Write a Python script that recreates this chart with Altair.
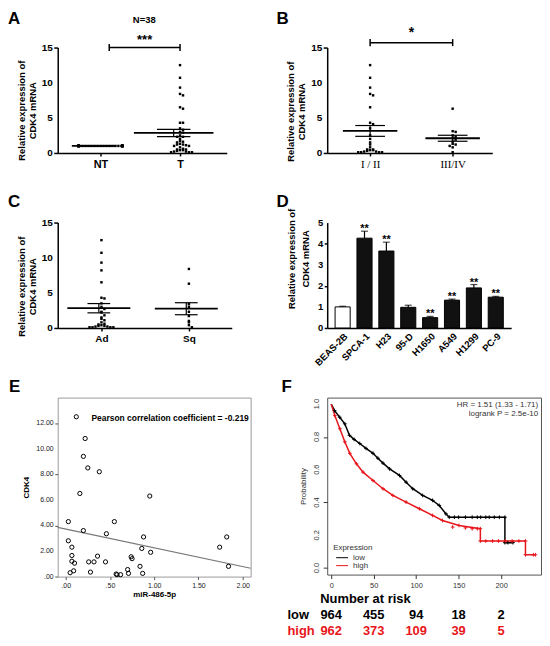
import altair as alt
import pandas as pd

FONT = "Liberation Sans"
SERIF = "Liberation Serif"

# ---------------- data ----------------
A_LABELS = ["NT", "T"]
A_NT = [1.0, 1.0, 1.0, 1.0, 1.0, 1.0, 1.0, 1.0, 1.0, 1.0, 1.0, 1.0, 1.0, 1.0, 1.0, 1.0, 1.0, 1.0, 1.0,
        1.0, 1.0, 1.0, 1.0, 1.0, 1.0, 1.0, 1.0, 1.0, 1.0, 1.0, 1.0, 1.0, 1.0, 1.0, 1.0, 1.0, 1.0, 1.0]
A_T = [12.5, 10.7, 9.3, 8.4, 8.2, 6.5, 6.3, 4.3, 4.3, 3.5, 3.3, 3.0, 2.9, 2.5, 2.3, 2.3, 2.0, 1.7, 1.6,
       1.5, 1.3, 1.2, 1.2, 1.1, 1.0, 1.0, 0.8, 0.6, 0.5, 0.5, 0.4, 0.4, 0.3, 0.2, 0.2, 0.1, 0.1, 0.1]

B_LABELS = ["I / II", "III/IV"]
B_I_II = [12.5, 10.7, 9.3, 8.4, 8.2, 6.5, 4.3, 4.1, 3.5, 2.5, 2.0, 1.5, 1.2, 0.8, 0.5, 0.5, 0.4,
          0.4, 0.3, 0.2, 0.2, 0.1, 0.1, 0.1, 0.1]
B_III_IV = [6.3, 3.1, 3.0, 2.5, 2.3, 2.1, 1.9, 1.6, 1.3, 1.2, 1.0, 0.8, 0.1]

C_LABELS = ["Ad", "Sq"]
C_AD = [12.5, 10.7, 9.3, 8.2, 6.5, 4.3, 4.2, 3.5, 3.0, 2.7, 2.3, 2.2, 1.8, 1.5, 1.3, 1.1, 0.8, 0.6,
        0.5, 0.4, 0.3, 0.3, 0.2, 0.2, 0.1, 0.1, 0.1, 0.1]
C_SQ = [8.4, 6.3, 3.4, 3.0, 2.3, 1.7, 1.0, 0.8, 0.4, 0.1]
ABC_YTICKS = [0, 5, 10, 15]

D_CELLS = ["BEAS-2B", "SPCA-1", "H23", "95-D", "H1650", "A549", "H1299", "PC-9"]
D_MEAN = [1.0, 4.26, 3.65, 0.98, 0.49, 1.32, 1.90, 1.46]
D_ERR = [0.03, 0.33, 0.42, 0.10, 0.06, 0.05, 0.16, 0.04]
D_SIG = ["", "**", "**", "", "**", "**", "**", "**"]
D_YTICKS = [0, 1, 2, 3, 4, 5]

E_MIR = [0.12, 0.22, 0.20, 0.25, 0.38, 0.16, 0.95, 0.03, 0.55, 0.20, 0.46, 0.88, 0.03, 0.07, 0.86,
         0.96, 1.74, 1.82, 1.84, 0.07, 0.07, 0.10, 0.26, 0.32, 0.36, 0.45, 0.74, 0.75, 0.84, 0.70,
         0.09, 0.05, 0.28, 0.57, 0.58, 0.62, 0.71, 0.87]
E_CDK4 = [12.5, 10.8, 9.4, 8.5, 8.2, 6.5, 6.3, 4.3, 4.3, 3.6, 3.35, 3.1, 2.8, 2.3, 2.2, 1.9, 2.3,
          3.1, 0.8, 1.65, 1.2, 1.05, 1.15, 1.15, 1.6, 1.15, 1.55, 1.4, 0.8, 0.55, 0.45, 0.3, 0.35,
          0.2, 0.15, 0.15, 0.25, 0.25]
E_XTICKS = [0, 0.5, 1, 1.5, 2]
E_YTICKS = [0, 2, 4, 6, 8, 10, 12]
E_NOTE = "Pearson correlation coefficient = -0.219"

F_LOW_T = [0, 4, 10, 16, 21.5, 27, 33.6, 41, 49.2, 55, 61, 68.7, 80.4, 88.2, 96, 107.7, 119.4,
           127.2, 135, 139, 204.5, 204.5, 214]
F_LOW_S = [1.0, 0.96, 0.92, 0.88, 0.81, 0.785, 0.76, 0.73, 0.70, 0.67, 0.64, 0.605, 0.565, 0.524,
           0.484, 0.443, 0.413, 0.382, 0.331, 0.31, 0.31, 0.155, 0.155]
F_HIGH_T = [0, 4.3, 10.2, 16, 21.9, 29.7, 37.5, 49.2, 61, 72.6, 88.2, 103.8, 119.4, 131, 150.5,
            175.6, 175.6, 228.7, 228.7, 240.4]
F_HIGH_S = [1.0, 0.93, 0.85, 0.77, 0.70, 0.636, 0.585, 0.534, 0.484, 0.443, 0.402, 0.362, 0.321,
            0.29, 0.26, 0.24, 0.165, 0.165, 0.081, 0.081]
F_LOW_CENS_T = [145, 150, 158, 166, 172, 176, 182, 186, 192, 198, 208]
F_LOW_CENS_S = [0.31, 0.31, 0.31, 0.31, 0.31, 0.31, 0.31, 0.31, 0.31, 0.31, 0.155]
F_HIGH_CENS_T = [143, 158, 166, 172, 182, 190, 197, 205, 213, 221, 238]
F_HIGH_CENS_S = [0.25, 0.245, 0.24, 0.24, 0.165, 0.165, 0.165, 0.165, 0.165, 0.165, 0.081]
F_GROUPS = ["low", "high"]
F_XTICKS = [0, 50, 100, 150, 200]
F_YTICKS = [0, 0.2, 0.4, 0.6, 0.8, 1.0]
F_HR = "HR = 1.51 (1.33 - 1.71)"
F_P = "logrank P = 2.5e-10"
RISK_TIMES = [0, 50, 100, 150, 200]
RISK_LOW = [964, 455, 94, 18, 2]
RISK_HIGH = [962, 373, 109, 39, 5]

RED = "#e8161b"
ANNOT = pd.DataFrame({"a": [0]})
YTITLE = ["Relative expression of", "CDK4 mRNA"]
SPSS_FMT = "datum.tv < 1 ? substring(format(datum.tv, '.2f'), 1) : format(datum.tv, '.2f')"
SPSS_AXFMT = "datum.value < 1 ? substring(format(datum.value, '.2f'), 1) : format(datum.value, '.2f')"


def letter(ch, dx, dy):
    return alt.Chart(ANNOT).mark_text(
        text=ch, fontSize=17, fontWeight="bold", font=FONT, align="left",
        baseline="alphabetic", color="black"
    ).encode(x=alt.value(dx), y=alt.value(dy))


def ylabels(values, expr, dx, size, weight, color="black", angle=0, align="right",
            baseline="middle"):
    df = pd.DataFrame({"tv": values})
    return alt.Chart(df).transform_calculate(lbl=expr).mark_text(
        font=FONT, fontSize=size, fontWeight=weight, color=color, angle=angle,
        align=align, baseline=baseline
    ).encode(y=alt.Y("tv:Q"), x=alt.value(dx), text="lbl:N")


def dot_panel(vals1, vals2, labels, width, height, dom, mean_hw, cap_hw, mshift,
              lab_font, lab_weight, lab_size, title_y, extra):
    ppu = width / (dom[1] - dom[0])
    df = pd.DataFrame({"g": [1] * len(vals1) + [2] * len(vals2), "v": vals1 + vals2})
    step = 3.0 / ppu
    lim = 22.0 / ppu
    xscale = alt.Scale(domain=dom, nice=False, zero=False)
    yscale = alt.Scale(domain=[0, 15], nice=False, zero=False)
    xaxis = alt.Axis(values=[1, 2],
                     labelExpr=f"datum.value == 1 ? '{labels[0]}' : '{labels[1]}'",
                     title=None, tickSize=3, tickWidth=1.5, domainWidth=1.5,
                     labelFont=lab_font, labelFontWeight=lab_weight, labelFontSize=lab_size,
                     labelPadding=3, grid=False, labelOverlap=False)
    yaxis = alt.Axis(values=ABC_YTICKS, labels=False, title=YTITLE, titleFontSize=9.5,
                     titleFontWeight="bold", titleLineHeight=11, titlePadding=16, titleY=title_y,
                     tickSize=4, tickWidth=1.5, domainWidth=1.5, grid=False)
    base = alt.Chart(df)
    pts = base.transform_calculate(
        b="floor(datum.v / 0.45)"
    ).transform_window(
        rk="row_number()", groupby=["g", "b"], sort=[alt.SortField("v", order="descending")]
    ).transform_calculate(
        k="datum.rk - 1"
    ).transform_calculate(
        xx=f"datum.g + clamp((datum.k % 2 == 1 ? 1 : -1) * ceil(datum.k / 2) * {step:.5f}, {-lim:.5f}, {lim:.5f})"
    ).mark_square(size=6, color="black", opacity=1).encode(
        x=alt.X("xx:Q", scale=xscale, axis=xaxis),
        y=alt.Y("v:Q", scale=yscale, axis=yaxis),
    )
    agg = base.transform_aggregate(
        m="mean(v)", se="stderr(v)", groupby=["g"]
    ).transform_calculate(
        hw=mean_hw,
        lo="datum.m - datum.se", hi="datum.m + datum.se",
        c=f"datum.g + {mshift}",
        cx1=f"datum.g + {mshift} - {cap_hw}", cx2=f"datum.g + {mshift} + {cap_hw}",
    ).transform_calculate(
        mx1=f"datum.g + {mshift} - datum.hw", mx2=f"datum.g + {mshift} + datum.hw",
    )
    mean_rule = agg.mark_rule(color="black", strokeWidth=1.8).encode(
        x="mx1:Q", x2="mx2:Q", y="m:Q")
    sem_rule = agg.mark_rule(color="black", strokeWidth=1.2).encode(
        x="c:Q", y="lo:Q", y2="hi:Q")
    cap_hi = agg.mark_rule(color="black", strokeWidth=1.2).encode(
        x="cx1:Q", x2="cx2:Q", y="hi:Q")
    cap_lo = agg.mark_rule(color="black", strokeWidth=1.2).encode(
        x="cx1:Q", x2="cx2:Q", y="lo:Q")
    ylab = ylabels(ABC_YTICKS, "format(datum.tv, 'd')", -5, 10, "bold")
    return alt.layer(pts, mean_rule, sem_rule, cap_hi, cap_lo, ylab, *extra).properties(
        width=width, height=height)


def bracket(x1, x2, y, star, star_y, star_size):
    ln = alt.Chart(ANNOT).mark_rule(color="black", strokeWidth=1.5).encode(
        x=alt.datum(x1), x2=alt.datum(x2), y=alt.datum(y))
    t1 = alt.Chart(ANNOT).mark_rule(color="black", strokeWidth=1.5).encode(
        x=alt.datum(x1), y=alt.datum(y - 0.5), y2=alt.datum(y + 0.5))
    t2 = alt.Chart(ANNOT).mark_rule(color="black", strokeWidth=1.5).encode(
        x=alt.datum(x2), y=alt.datum(y - 0.5), y2=alt.datum(y + 0.5))
    st = alt.Chart(ANNOT).mark_text(text=star, fontSize=star_size, fontWeight="bold",
                                    font=FONT, baseline="middle").encode(
        x=alt.datum((x1 + x2) / 2), y=alt.datum(star_y))
    return [ln, t1, t2, st]


# ---------------- Panel A ----------------
n38 = alt.Chart(ANNOT).mark_text(text="N=38", fontSize=9.5, fontWeight="bold", font=FONT,
                                 baseline="middle").encode(x=alt.datum(1.55), y=alt.datum(18.9))
pA = dot_panel(A_NT, A_T, A_LABELS, 170, 106, [0.4625, 2.5875],
               "datum.g == 1 ? 0.28 : 0.5", 0.21, -0.08,
               FONT, "bold", 11, 63,
               bracket(1.11, 2.0, 15.0, "***", 16.1, 13) + [n38, letter("A", -50, -24)])

# ---------------- Panel B ----------------
pB = dot_panel(B_I_II, B_III_IV, B_LABELS, 166, 106, [0.48, 2.48], "0.33", 0.18, 0.0,
               SERIF, "normal", 11, 64,
               bracket(1.0, 2.0, 15.7, "*", 17.0, 14) + [letter("B", -51, -24)])

# ---------------- Panel C ----------------
pC = dot_panel(C_AD, C_SQ, C_LABELS, 175, 106, [0.5, 2.49], "0.36", 0.13, -0.03,
               FONT, "bold", 10, 64, [letter("C", -50, -16)])

# ---------------- Panel D ----------------
d_df = pd.DataFrame({"cell": D_CELLS, "mean": D_MEAN, "err": D_ERR, "sig": D_SIG})
d_base = alt.Chart(d_df).transform_calculate(hi="datum.mean + datum.err")
xD = alt.X("cell:N", sort=D_CELLS,
           scale=alt.Scale(paddingInner=0.31, paddingOuter=0.36),
           axis=alt.Axis(title=None, labelAngle=315, labelFontWeight="bold", labelFontSize=9.5,
                         ticks=False, domainWidth=1.5, labelPadding=3, grid=False,
                         labelOverlap=False))
yD = alt.Y("mean:Q", scale=alt.Scale(domain=[0, 5], nice=False),
           axis=alt.Axis(values=D_YTICKS, labels=False, title=YTITLE, titleFontSize=9.5,
                         titleFontWeight="bold", titleLineHeight=14, titlePadding=13, titleY=36,
                         tickSize=3, tickWidth=1.5, domainWidth=1.5, grid=False))
bars = d_base.mark_bar(stroke="black", strokeWidth=1).encode(
    x=xD, y=yD,
    fill=alt.condition("datum.cell == 'BEAS-2B'", alt.value("white"), alt.value("#111111")))
err = d_base.mark_rule(color="black", strokeWidth=1.2).encode(
    x=alt.X("cell:N", sort=D_CELLS), y="mean:Q", y2="hi:Q")
cap = d_base.mark_tick(orient="horizontal", size=7, thickness=1.2, color="black").encode(
    x=alt.X("cell:N", sort=D_CELLS), y="hi:Q")
sig = d_base.mark_text(fontSize=11, fontWeight="bold", font=FONT, baseline="alphabetic",
                       dy=1, color="black").encode(
    x=alt.X("cell:N", sort=D_CELLS), y="hi:Q", text="sig:N")
d_ylab = ylabels(D_YTICKS, "format(datum.tv, 'd')", -4, 9.5, "bold")
pD = alt.layer(bars, err, cap, sig, d_ylab, letter("D", -51, -16)).properties(
    width=185, height=106)

# ---------------- Panel E ----------------
e_df = pd.DataFrame({"mir": E_MIR, "cdk4": E_CDK4})
xE = alt.X("mir:Q", scale=alt.Scale(domain=[-0.09, 2.09], nice=False, zero=False),
           axis=alt.Axis(values=E_XTICKS, labelExpr=SPSS_AXFMT, title="miR-486-5p",
                         titleFontSize=8, titleFontWeight="bold", titlePadding=2,
                         labelFontSize=7, labelColor="#222222", tickSize=3, tickColor="#555555",
                         domain=False, grid=False, labelPadding=2, labelOverlap=False))
yE = alt.Y("cdk4:Q", scale=alt.Scale(domain=[0, 14], nice=False, zero=False),
           axis=alt.Axis(values=E_YTICKS, labels=False, title="CDK4",
                         titleFontSize=8, titleFontWeight="bold", titlePadding=24,
                         tickSize=3, tickColor="#555555", domain=False, grid=False))
e_pts = alt.Chart(e_df).mark_point(shape="circle", size=18, filled=False, color="black",
                                   strokeWidth=1, opacity=1).encode(x=xE, y=yE)
e_line = alt.Chart(e_df).transform_regression(
    "mir", "cdk4", extent=[-0.09, 2.09]
).mark_line(color="#777777", strokeWidth=1.2).encode(x="mir:Q", y="cdk4:Q")
e_txt = alt.Chart(ANNOT).mark_text(text=E_NOTE, fontSize=8.5, fontWeight="bold", font=FONT,
                                   baseline="middle").encode(x=alt.datum(1.18), y=alt.datum(12.4))
e_ylab = ylabels(E_YTICKS, SPSS_FMT, -4, 7, "normal", color="#222222")
pE = alt.layer(e_line, e_pts, e_txt, e_ylab, letter("E", -49, -6)).properties(
    width=194, height=180, view=alt.ViewBackground(stroke="#999999", strokeWidth=1))

# ---------------- Panel F ----------------
f_df = pd.DataFrame({
    "t": F_LOW_T + F_HIGH_T,
    "s": F_LOW_S + F_HIGH_S,
    "grp": ["low"] * len(F_LOW_T) + ["high"] * len(F_HIGH_T),
})
f_df["i"] = range(len(f_df))
cens_df = pd.DataFrame({
    "t": F_LOW_CENS_T + F_HIGH_CENS_T,
    "s": F_LOW_CENS_S + F_HIGH_CENS_S,
    "grp": ["low"] * len(F_LOW_CENS_T) + ["high"] * len(F_HIGH_CENS_T),
})
colF = alt.Color("grp:N", scale=alt.Scale(domain=F_GROUPS, range=["black", RED]), legend=None)
xF = alt.X("t:Q", scale=alt.Scale(domain=[-4.7, 247], nice=False, zero=False),
           axis=alt.Axis(values=F_XTICKS, title=None, labelFontSize=7.5,
                         labelColor="#333333", tickColor="#333333", tickSize=4, labelPadding=3,
                         domain=False, grid=False, labelOverlap=False))
yF = alt.Y("s:Q", scale=alt.Scale(domain=[-0.04, 1.04], nice=False, zero=False),
           axis=alt.Axis(values=F_YTICKS, labels=False,
                         title="Probability", titleFontSize=8, titleFontWeight="normal",
                         titleColor="#333333", titlePadding=15,
                         tickColor="#333333", tickSize=4, domain=False, grid=False))
CROSS = "M-1,0H1M0,-1V1"
f_lines = alt.Chart(f_df).mark_line(strokeWidth=1.5).encode(
    x=xF, y=yF, color=colF, order="i:Q")
f_vert = alt.Chart(f_df).transform_filter("datum.t > 0").mark_point(
    shape=CROSS, size=14, strokeWidth=1, filled=False, opacity=1).encode(
    x="t:Q", y="s:Q", color=colF)
f_cens = alt.Chart(cens_df).mark_point(
    shape=CROSS, size=14, strokeWidth=1, filled=False, opacity=1).encode(
    x="t:Q", y="s:Q", color=colF)
f_ylab = ylabels(F_YTICKS, "format(datum.tv, '.1f')", -6, 7.5, "normal", color="#333333",
                 angle=270, align="center", baseline="bottom")
f_hr = alt.Chart(ANNOT).mark_text(text=F_HR, fontSize=8, font=FONT, align="right",
                                  baseline="middle", color="#333333").encode(
    x=alt.datum(243.6), y=alt.datum(0.994))
f_p = alt.Chart(ANNOT).mark_text(text=F_P, fontSize=8, font=FONT, align="right",
                                 baseline="middle", color="#333333").encode(
    x=alt.datum(243.6), y=alt.datum(0.94))
leg_title = alt.Chart(ANNOT).mark_text(text="Expression", fontSize=8, font=FONT, align="left",
                                       baseline="middle", color="#333333").encode(
    x=alt.value(6), y=alt.value(151))
leg_low_line = alt.Chart(ANNOT).mark_rule(color="black", strokeWidth=1).encode(
    x=alt.value(9), x2=alt.value(21), y=alt.value(161))
leg_high_line = alt.Chart(ANNOT).mark_rule(color=RED, strokeWidth=1).encode(
    x=alt.value(9), x2=alt.value(21), y=alt.value(169))
leg_low = alt.Chart(ANNOT).mark_text(text="low", fontSize=8, font=FONT, align="left",
                                     baseline="middle", color="#333333").encode(
    x=alt.value(26), y=alt.value(161))
leg_high = alt.Chart(ANNOT).mark_text(text="high", fontSize=8, font=FONT, align="left",
                                      baseline="middle", color="#333333").encode(
    x=alt.value(26), y=alt.value(169))
risk_df = pd.DataFrame({
    "t": RISK_TIMES + RISK_TIMES,
    "n": RISK_LOW + RISK_HIGH,
    "grp": ["low"] * len(RISK_LOW) + ["high"] * len(RISK_HIGH),
})
risk_title = alt.Chart(ANNOT).mark_text(text="Number at risk", fontSize=13, fontWeight="bold",
                                        font=FONT, align="left", baseline="middle",
                                        color="black").encode(
    x=alt.value(-7), y=alt.value(203))
risk_low_lab = alt.Chart(ANNOT).mark_text(text="low", fontSize=13, fontWeight="bold", font=FONT,
                                          align="left", baseline="middle", color="black").encode(
    x=alt.value(-40), y=alt.value(219))
risk_high_lab = alt.Chart(ANNOT).mark_text(text="high", fontSize=13, fontWeight="bold", font=FONT,
                                           align="left", baseline="middle", color=RED).encode(
    x=alt.value(-40), y=alt.value(235))
risk_low = alt.Chart(risk_df).transform_filter("datum.grp == 'low'").mark_text(
    fontSize=13, fontWeight="bold", font=FONT, baseline="middle", color="black").encode(
    x="t:Q", y=alt.value(219), text="n:Q")
risk_high = alt.Chart(risk_df).transform_filter("datum.grp == 'high'").mark_text(
    fontSize=13, fontWeight="bold", font=FONT, baseline="middle", color=RED).encode(
    x="t:Q", y=alt.value(235), text="n:Q")
pF = alt.layer(f_lines, f_vert, f_cens, f_ylab, f_hr, f_p, leg_title, leg_low_line,
               leg_high_line, leg_low, leg_high, risk_title, risk_low_lab, risk_high_lab,
               risk_low, risk_high, letter("F", -46, -6)).properties(
    width=215, height=178, view=alt.ViewBackground(stroke="#555555", strokeWidth=1))

chart = alt.concat(
    pA, pB, pC, pD, pE, pF, columns=2, spacing={"row": 70, "column": 77}, bounds="flush"
).properties(padding=0).configure(font=FONT).configure_view(strokeWidth=0).configure_axis(
    labelFont=FONT, titleFont=FONT, domainColor="black", tickColor="black",
    labelColor="black", titleColor="black", grid=False, labelOverlap=False)

chart.save("out.html", embed_options={"renderer": "svg", "actions": False})
